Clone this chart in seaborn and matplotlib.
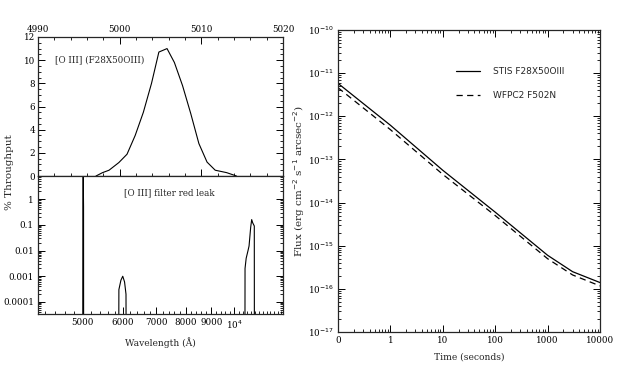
import numpy as np
import pandas as pd
import matplotlib
matplotlib.use("Agg")
import matplotlib.pyplot as plt
import matplotlib.ticker as mticker
import seaborn as sns

# ---- data ----
# top-left: [O III] filter throughput (%) vs wavelength (A)
band_wave = [4997.1, 4997.9, 4998.7, 4999.9, 5000.9, 5001.9, 5002.9, 5003.9, 5004.8,
             5005.8, 5006.7, 5007.7, 5008.7, 5009.7, 5010.7, 5011.7, 5013.1, 5014.3]
band_thru = [0, 0.29, 0.5, 1.16, 1.88, 3.5, 5.5, 8.0, 10.7,
             11.0, 9.8, 7.8, 5.4, 2.8, 1.2, 0.5, 0.29, 0]

# bottom-left: red leak (log)
peak_wave = [4996, 4998, 5006, 5014, 5016]
peak_thru = [1e-6, 0.5, 11.0, 0.5, 1e-6]
bump_wave = [5890, 5895, 5950, 6000, 6050, 6090, 6095]
bump_thru = [1e-6, 3e-4, 7e-4, 1e-3, 6e-4, 2e-4, 1e-6]
leak_wave = [10500, 10505, 10560, 10650, 10700, 10780, 10830, 10880, 10960, 10965]
leak_thru = [1e-6, 0.002, 0.005, 0.01, 0.015, 0.08, 0.16, 0.12, 0.09, 1e-6]

# right: flux vs time
time_s = [0.1, 1, 10, 100, 1000, 3000, 10000]
flux_stis = [5.8e-12, 6.2e-13, 5.6e-14, 6.0e-15, 6.0e-16, 2.5e-16, 1.4e-16]
flux_wfpc2 = [4.6e-12, 4.9e-13, 4.5e-14, 5.0e-15, 5.0e-16, 2.1e-16, 1.17e-16]

top_ticks = [4990, 5000, 5010, 5020]
leak_ticks = [5000, 6000, 7000, 8000, 9000, 10000]
leak_ticklabels = ["5000", "6000", "7000", "8000", "9000", "10$^4$"]
leak_yticks = [1e-4, 1e-3, 1e-2, 1e-1, 1]
leak_yticklabels = ["0.0001", "0.001", "0.01", "0.1", "1"]
time_ticks = [0.1, 1, 10, 100, 1000, 10000]
time_ticklabels = ["0", "1", "10", "100", "1000", "10000"]
flux_ticks = [1e-17, 1e-16, 1e-15, 1e-14, 1e-13, 1e-12, 1e-11, 1e-10]

# ---- style ----
sns.set_style("ticks")
plt.rcParams["font.family"] = ["DejaVu Serif"]
plt.rcParams["axes.linewidth"] = 0.9
plt.rcParams["xtick.direction"] = "in"
plt.rcParams["ytick.direction"] = "in"
plt.rcParams["xtick.color"] = "black"
plt.rcParams["ytick.color"] = "black"

W, H = 622, 367
fig = plt.figure(figsize=(W / 100, H / 100), dpi=100)

def rect(x0, y0, x1, y1):
    return [x0 / W, 1 - y1 / H, (x1 - x0) / W, (y1 - y0) / H]

fs = 6.3
lfs = 7.5

# top-left
ax1 = fig.add_axes(rect(38, 37, 283, 176))
sns.lineplot(x=band_wave, y=band_thru, ax=ax1, color="black", lw=0.8,
             sort=False, estimator=None)
ax1.set_xlim(4990, 5020)
ax1.set_ylim(0, 12)
ax1.xaxis.set_major_locator(mticker.FixedLocator(top_ticks))
ax1.xaxis.set_minor_locator(mticker.MultipleLocator(2))
ax1.yaxis.set_major_locator(mticker.MultipleLocator(2))
ax1.yaxis.set_minor_locator(mticker.MultipleLocator(0.5))
ax1.tick_params(which="both", top=True, right=True, labeltop=True,
                labelbottom=False, labelsize=fs, pad=2)
ax1.tick_params(which="major", length=5, width=0.7)
ax1.tick_params(which="minor", length=2.5, width=0.6)
ax1.text(0.07, 0.835, "[O III] (F28X50OIII)", transform=ax1.transAxes,
         fontsize=fs, va="center", ha="left")

# bottom-left
ax2 = fig.add_axes(rect(38, 176, 283, 314))
for wv, tv in [(peak_wave, peak_thru), (bump_wave, bump_thru), (leak_wave, leak_thru)]:
    sns.lineplot(x=wv, y=tv, ax=ax2, color="black", lw=0.8, sort=False,
                 estimator=None)
ax2.set_xscale("log")
ax2.set_yscale("log")
ax2.set_xlim(4070, 12500)
ax2.set_ylim(10 ** -4.47, 10 ** 0.9)
ax2.xaxis.set_major_locator(mticker.FixedLocator(leak_ticks))
ax2.xaxis.set_major_formatter(mticker.FixedFormatter(leak_ticklabels))
ax2.xaxis.set_minor_locator(mticker.FixedLocator(
    [w for w in range(4200, 12600, 200) if w not in leak_ticks]))
ax2.xaxis.set_minor_formatter(mticker.NullFormatter())
ax2.yaxis.set_major_locator(mticker.FixedLocator(leak_yticks))
ax2.yaxis.set_major_formatter(mticker.FixedFormatter(leak_yticklabels))
ax2.yaxis.set_minor_locator(mticker.LogLocator(base=10, subs=np.arange(2, 10)))
ax2.yaxis.set_minor_formatter(mticker.NullFormatter())
ax2.tick_params(which="both", top=False, right=True, labelsize=fs, pad=3)
ax2.tick_params(which="major", length=5, width=0.7)
ax2.tick_params(which="minor", length=2.5, width=0.6)
ax2.set_xlabel("Wavelength (Å)", fontsize=fs + 0.3, labelpad=5)
ax2.text(0.35, 0.875, "[O III] filter red leak", transform=ax2.transAxes,
         fontsize=fs, va="center", ha="left")

fig.text(10 / W, 1 - 172 / H, "% Throughput", rotation=90, fontsize=lfs,
         va="center", ha="center")

# right
df = pd.DataFrame({
    "time": time_s * 2,
    "flux": flux_stis + flux_wfpc2,
    "inst": ["STIS F28X50OIII"] * len(time_s) + ["WFPC2 F502N"] * len(time_s),
})
ax3 = fig.add_axes(rect(338, 30, 600, 332))
sns.lineplot(data=df, x="time", y="flux", style="inst",
             dashes={"STIS F28X50OIII": "", "WFPC2 F502N": (5, 3.5)},
             color="black", lw=0.9, ax=ax3, sort=False, estimator=None)
ax3.set_xscale("log")
ax3.set_yscale("log")
ax3.set_xlim(0.1, 10000)
ax3.set_ylim(1e-17, 1e-10)
ax3.xaxis.set_major_locator(mticker.FixedLocator(time_ticks))
ax3.xaxis.set_major_formatter(mticker.FixedFormatter(time_ticklabels))
ax3.xaxis.set_minor_locator(mticker.LogLocator(base=10, subs=np.arange(2, 10)))
ax3.xaxis.set_minor_formatter(mticker.NullFormatter())
ax3.yaxis.set_major_locator(mticker.FixedLocator(flux_ticks))
ax3.yaxis.set_major_formatter(mticker.FuncFormatter(
    lambda v, p: "10$^{%d}$" % int(round(np.log10(v)))))
ax3.yaxis.set_minor_locator(mticker.LogLocator(base=10, subs=np.arange(2, 10)))
ax3.yaxis.set_minor_formatter(mticker.NullFormatter())
ax3.tick_params(which="both", top=True, right=True, labelsize=fs, pad=3)
ax3.tick_params(which="major", length=5, width=0.7)
ax3.tick_params(which="minor", length=2.5, width=0.6)
ax3.set_xlabel("Time (seconds)", fontsize=fs + 0.3, labelpad=5)
ax3.set_ylabel("Flux (erg cm$^{-2}$ s$^{-1}$ arcsec$^{-2}$)", fontsize=lfs,
               labelpad=1)
leg = ax3.legend(loc="upper left", bbox_to_anchor=(0.42, 0.905), frameon=False,
                 handlelength=2.6, handletextpad=1.5, labelspacing=1.7,
                 prop={"family": "DejaVu Sans", "size": 6.5})

fig.savefig("out.png", dpi=100)
